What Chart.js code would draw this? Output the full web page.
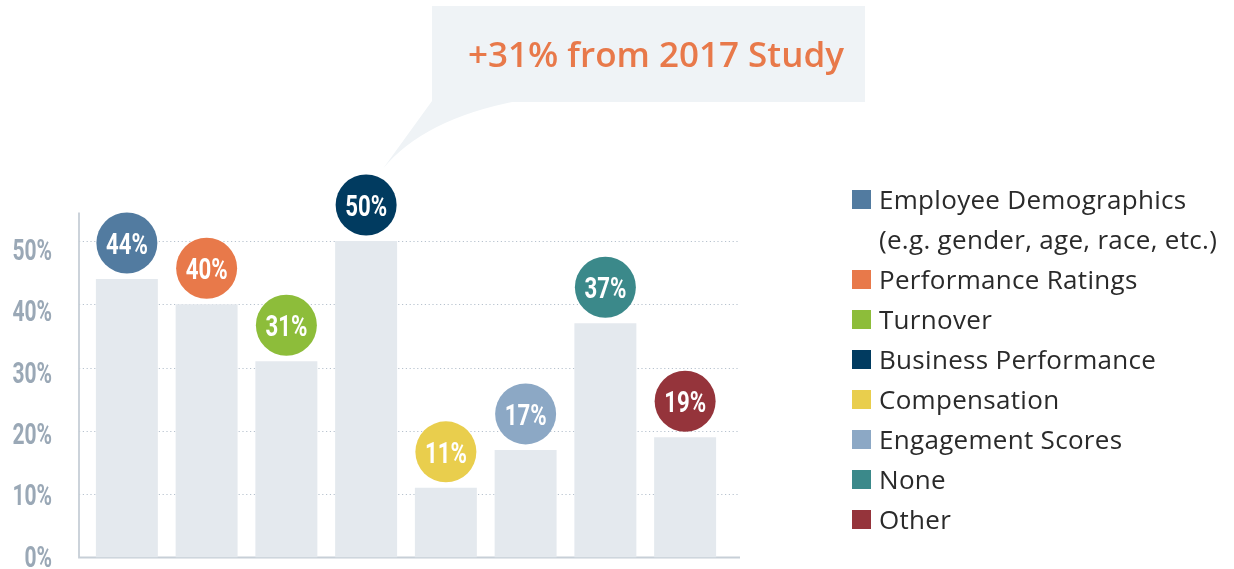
<!DOCTYPE html>
<html>
<head>
<meta charset="utf-8">
<script src="https://cdn.jsdelivr.net/npm/chart.js@4.4.1/dist/chart.umd.min.js"></script>
<style>
  html, body { margin: 0; padding: 0; background: #ffffff; }
  #wrap { position: relative; width: 1234px; height: 569px; overflow: hidden; }
  #legend { position: absolute; left: 852px; top: 179px; font-family: "Open Sans", "Lato", sans-serif; font-size: 26px; letter-spacing: 0.3px; color: #2a2a2a; }
  .row { height: 40px; display: flex; align-items: center; white-space: nowrap; }
  .sw { width: 19px; height: 19px; margin-right: 8px; flex: none; }
  .sp { width: 19px; margin-right: 8px; flex: none; }
</style>
</head>
<body>
<div id="wrap">
  <canvas id="c" width="1234" height="569"></canvas>
  <div id="legend"></div>
</div>
<script>
// ---- data ----
const categories = [
  ["Employee Demographics", "(e.g. gender, age, race, etc.)"],
  ["Performance Ratings"],
  ["Turnover"],
  ["Business Performance"],
  ["Compensation"],
  ["Engagement Scores"],
  ["None"],
  ["Other"]
];
const values = [44, 40, 31, 50, 11, 17, 37, 19];
const colors = ["#527ba0", "#e8794a", "#8dbd3a", "#013b60", "#e9ce4d", "#8ca8c5", "#3b898a", "#95343b"];
const yTicks = [0, 10, 20, 30, 40, 50];
const calloutText = "+31% from 2017 Study";

// ---- legend (HTML) ----
const legendEl = document.getElementById('legend');
categories.forEach((lines, i) => {
  lines.forEach((t, j) => {
    const row = document.createElement('div');
    row.className = 'row';
    const sw = document.createElement('span');
    sw.className = j === 0 ? 'sw' : 'sp';
    if (j === 0) sw.style.background = colors[i];
    const tx = document.createElement('span');
    tx.textContent = t;
    row.appendChild(sw); row.appendChild(tx);
    legendEl.appendChild(row);
  });
});

const condFont = 'Roboto, "Liberation Sans", sans-serif';

// draw condensed text by squeezing horizontally
function condText(ctx, text, x, y, size, sx, align, color) {
  ctx.save();
  ctx.translate(x, y);
  ctx.scale(sx, 1);
  ctx.fillStyle = color;
  ctx.font = 'bold ' + size + 'px ' + condFont;
  ctx.textAlign = align;
  ctx.textBaseline = 'alphabetic';
  ctx.fillText(text, 0, 0);
  ctx.restore();
}

// ---- plugins ----
const framePlugin = {
  id: 'frame',
  beforeDatasetsDraw(chart) {
    const ctx = chart.ctx, a = chart.chartArea, y = chart.scales.y;
    const x0 = a.left - 8, x1 = a.right + 15;
    ctx.save();
    ctx.strokeStyle = '#b7c2ce';
    ctx.lineWidth = 1;
    ctx.setLineDash([1.2, 2.6]);
    yTicks.forEach(v => {
      if (v === 0) return;
      const py = Math.round(y.getPixelForValue(v)) + 0.5;
      ctx.beginPath(); ctx.moveTo(x0, py); ctx.lineTo(x1, py); ctx.stroke();
    });
    ctx.setLineDash([]);
    ctx.strokeStyle = '#c7cfd7';
    ctx.lineWidth = 1.8;
    const by = y.getPixelForValue(0);
    ctx.beginPath(); ctx.moveTo(x0, a.top); ctx.lineTo(x0, by); ctx.lineTo(x1, by); ctx.stroke();
    ctx.restore();
  },
  afterDraw(chart) {
    // y tick labels, placed by the label scale
    const ctx = chart.ctx, s = chart.scales.yl;
    s.ticks.forEach(t => {
      const py = s.getPixelForValue(t.value);
      condText(ctx, t.value + '%', 52, py + 10.8, 30, 0.7, 'right', '#9aa8b6');
    });
  }
};

const bubblePlugin = {
  id: 'bubbles',
  afterDatasetsDraw(chart) {
    const ctx = chart.ctx;
    const meta = chart.getDatasetMeta(0);
    ctx.save();
    meta.data.forEach((el, i) => {
      const cx = el.x, cy = el.y - 36;
      ctx.beginPath();
      ctx.arc(cx, cy, 30.5, 0, Math.PI * 2);
      ctx.fillStyle = colors[i];
      ctx.fill();
      condText(ctx, values[i] + '%', cx, cy + 11, 30, 0.74, 'center', '#ffffff');
    });
    ctx.restore();
  }
};

const calloutPlugin = {
  id: 'callout',
  beforeDraw(chart) {
    const ctx = chart.ctx;
    const el = chart.getDatasetMeta(0).data[3];
    const tipX = el.x + 17, tipY = el.y - 36 - 30.5 - 6;
    ctx.save();
    ctx.fillStyle = '#eff3f6';
    ctx.fillRect(432, 6, 433, 96);
    ctx.beginPath();
    ctx.moveTo(432, 101);
    ctx.lineTo(tipX, tipY);
    ctx.quadraticCurveTo(424, 119, 517, 101);
    ctx.closePath();
    ctx.fill();
    ctx.fillStyle = '#e8794a';
    ctx.font = '600 35px "Open Sans", "Lato", sans-serif';
    ctx.textAlign = 'left';
    ctx.textBaseline = 'alphabetic';
    ctx.fillText(calloutText, 468, 67, 376);
    ctx.restore();
  }
};

new Chart(document.getElementById('c'), {
  type: 'bar',
  data: {
    labels: categories.map(c => c.join(' ')),
    datasets: [{
      data: values,
      backgroundColor: '#e4e9ee',
      borderWidth: 0,
      barPercentage: 0.777,
      categoryPercentage: 1
    }]
  },
  options: {
    responsive: false,
    animation: false,
    events: [],
    layout: { padding: { top: 212.5, bottom: 11.5, left: 0, right: 509 } },
    plugins: { legend: { display: false }, tooltip: { enabled: false } },
    scales: {
      x: { display: false },
      y: { display: false, min: 0, max: 54.5 },
      yl: {
        position: 'left',
        min: -0.244, max: 55.94,
        afterBuildTicks: s => { s.ticks = yTicks.map(v => ({ value: v })); },
        afterFit: s => { s.width = 87; s.paddingTop = 0; s.paddingBottom = 0; },
        grid: { display: false, drawTicks: false },
        border: { display: false },
        ticks: { display: false }
      }
    }
  },
  plugins: [calloutPlugin, framePlugin, bubblePlugin]
});
</script>
</body>
</html>
